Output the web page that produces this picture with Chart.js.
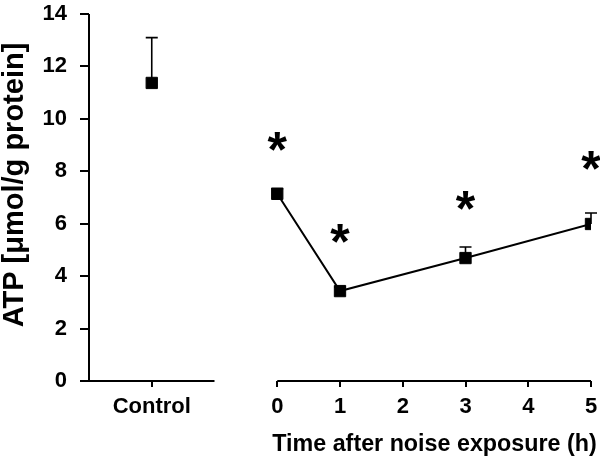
<!DOCTYPE html>
<html>
<head>
<meta charset="utf-8">
<script src="https://cdn.jsdelivr.net/npm/chart.js@4/dist/chart.umd.min.js"></script>
<style>
html,body{margin:0;padding:0;background:#fff;}
#wrap{width:600px;height:457px;position:relative;}
</style>
</head>
<body>
<div id="wrap"><canvas id="c" width="600" height="457"></canvas></div>
<script>
// ---- data ----
const controlLabel = 'Control';
const controlX = -2;            // position of the Control category on the shared x scale
const controlMean = [11.37];
const controlErrUp = [1.73];

const timeHours = [0, 1, 3, 5];
const atpMean = [7.14, 3.43, 4.69, 5.99];
const atpErrUp = [0.2, 0.15, 0.42, 0.42];

const starHours = [0, 1, 3, 5];
const starLevels = [9.2, 5.7, 6.95, 8.45];

const xTickValues = [-2, 0, 1, 2, 3, 4, 5];
const yTickStep = 2;
const yMax = 14;
const xAxisSegments = [[-3, -1], [0, 5]];

const xTitle = 'Time after noise exposure (h)';
const yTitle = 'ATP [μmol/g protein]';

const FONT = '"Liberation Sans", Arial, Helvetica, sans-serif';

const controlData = controlMean.map(v => ({x: controlX, y: v}));
const timeData = timeHours.map((h, i) => ({x: h, y: atpMean[i]}));

const decor = {
  id: 'decor',
  beforeDatasetsDraw(chart) {
    const {ctx, scales: {x, y}} = chart;
    ctx.save();
    ctx.strokeStyle = '#000';
    ctx.lineWidth = 1.6;
    const bars = [];
    controlMean.forEach((m, i) => bars.push([controlX, m, controlErrUp[i]]));
    timeHours.forEach((h, i) => bars.push([h, atpMean[i], atpErrUp[i]]));
    bars.forEach(([xv, m, e]) => {
      const px = x.getPixelForValue(xv);
      const py0 = y.getPixelForValue(m);
      const py1 = y.getPixelForValue(m + e);
      ctx.beginPath();
      ctx.moveTo(px, py0);
      ctx.lineTo(px, py1);
      ctx.moveTo(px - 6, py1);
      ctx.lineTo(px + 6, py1);
      ctx.stroke();
    });
    ctx.restore();
  },
  afterDraw(chart) {
    const {ctx, chartArea, scales: {x, y}} = chart;
    ctx.save();
    ctx.strokeStyle = '#000';
    ctx.lineWidth = 2;
    ctx.beginPath();
    ctx.moveTo(chartArea.left, y.getPixelForValue(yMax));
    ctx.lineTo(chartArea.left, y.getPixelForValue(0));
    ctx.stroke();
    xAxisSegments.forEach(([a, b]) => {
      ctx.beginPath();
      ctx.moveTo(x.getPixelForValue(a), y.getPixelForValue(0));
      ctx.lineTo(x.getPixelForValue(b), y.getPixelForValue(0));
      ctx.stroke();
    });
    // significance asterisks
    ctx.fillStyle = '#000';
    ctx.font = 'bold 50px ' + FONT;
    ctx.textAlign = 'center';
    ctx.textBaseline = 'alphabetic';
    starHours.forEach((h, i) => {
      const px = x.getPixelForValue(h);
      const py = y.getPixelForValue(starLevels[i]);
      ctx.fillText('*', px, py + 0.58 * 50 - 2);
    });
    // axis titles
    ctx.font = 'bold 23.3px ' + FONT;
    ctx.textAlign = 'center';
    ctx.textBaseline = 'middle';
    ctx.fillText(xTitle, 434.5, 445);
    ctx.translate(23, 185);
    ctx.rotate(-Math.PI / 2);
    ctx.font = 'bold 29px ' + FONT;
    ctx.textBaseline = 'alphabetic';
    ctx.fillText(yTitle, 0, 0);
    ctx.restore();
  }
};

new Chart(document.getElementById('c'), {
  type: 'scatter',
  data: {
    datasets: [
      {
        label: controlLabel,
        data: controlData,
        showLine: false,
        pointStyle: 'rect',
        pointRadius: 8,
        backgroundColor: '#000',
        borderColor: '#000',
        borderWidth: 1
      },
      {
        label: 'Time after noise exposure',
        data: timeData,
        showLine: true,
        borderColor: '#000',
        borderWidth: 2,
        pointStyle: 'rect',
        pointRadius: 8,
        pointBackgroundColor: '#000',
        pointBorderColor: '#000',
        pointBorderWidth: 1
      }
    ]
  },
  options: {
    responsive: false,
    animation: false,
    layout: {padding: {top: 14, right: 8, left: 0, bottom: 0}},
    plugins: {legend: {display: false}, tooltip: {enabled: false}},
    scales: {
      x: {
        type: 'linear',
        min: -3,
        max: 5,
        afterBuildTicks: s => { s.ticks = xTickValues.map(v => ({value: v})); },
        afterFit: s => { s.height = 76; s.paddingLeft = 0; s.paddingRight = 0; },
        border: {display: false},
        grid: {drawOnChartArea: false, drawTicks: true, tickLength: 6, color: '#000', lineWidth: 2},
        ticks: {
          color: '#000',
          font: {family: FONT, size: 22, weight: 'bold'},
          padding: 7,
          maxRotation: 0,
          autoSkip: false,
          callback: v => (v === controlX ? controlLabel : String(v))
        },
        title: {display: false}
      },
      y: {
        min: 0,
        max: yMax,
        afterFit: s => { s.width = 89; s.paddingTop = 0; s.paddingBottom = 0; },
        border: {display: false},
        grid: {drawOnChartArea: false, drawTicks: true, tickLength: 9, color: '#000', lineWidth: 2},
        ticks: {
          stepSize: yTickStep,
          color: '#000',
          font: {family: FONT, size: 22, weight: 'bold'},
          padding: 13
        },
        title: {display: false}
      }
    }
  },
  plugins: [decor]
});
</script>
</body>
</html>
